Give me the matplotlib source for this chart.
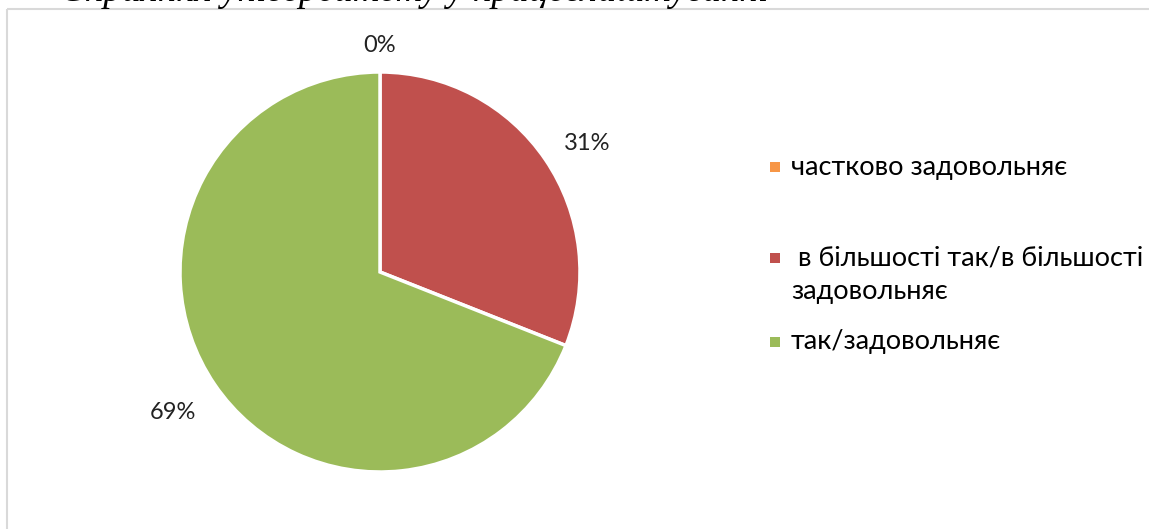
import matplotlib
matplotlib.use('Agg')
import matplotlib.pyplot as plt
from matplotlib.patches import Rectangle
import numpy as np

# Дані
categories = ['частково задовольняє', ' в більшості так/в більшості\nзадовольняє', 'так/задовольняє']
values = [0, 31, 69]
colors = ['#F79646', '#C0504D', '#9BBB59']
title = 'Сприяння університету у працевлаштуванні'

W, H = 1149, 529
fig = plt.figure(figsize=(W / 100, H / 100), dpi=100)
fig.patch.set_facecolor('white')

# Шар у пікселях для рамки, заголовка та легенди
over = fig.add_axes([0, 0, 1, 1])
over.set_xlim(0, W)
over.set_ylim(H, 0)
over.axis('off')

# рамка діаграми
over.add_patch(Rectangle((7, 9), W + 10, H + 10, fill=False, edgecolor='#D9D9D9', lw=1.5))

# обрізаний заголовок зверху
over.text(60, 1, title, fontsize=26.7, family='Liberation Serif', style='italic',
          va='baseline', ha='left', color='black')

# Кругова діаграма
cx, cy, r = 380, 272, 200
ax = fig.add_axes([(cx - r) / W, (H - cy - r) / H, 2 * r / W, 2 * r / H])
wedges, texts, autotexts = ax.pie(values, colors=colors, startangle=90, counterclock=False,
                                  radius=1, autopct='%.0f%%', pctdistance=1.2,
                                  wedgeprops=dict(edgecolor='white', linewidth=2.5),
                                  textprops=dict(fontsize=17, family='Lato', color='#222222'))
# відстань підписів від центру і зсув кута
lab_dist = [1.13, 1.22, 1.25]
lab_shift = [0, -2.5, 0]
for w, t, d, s in zip(wedges, autotexts, lab_dist, lab_shift):
    ang = np.deg2rad((w.theta1 + w.theta2) / 2 + s)
    t.set_position((d * np.cos(ang), d * np.sin(ang)))
    t.set_clip_on(False)
ax.set_xlim(-1, 1)
ax.set_ylim(-1, 1)
ax.set_aspect('equal')

# Легенда вручну (маркер на першому рядку, як в Excel)
leg_y = [167, 258, 342]
line_h = 34
for lab, col, y in zip(categories, colors, leg_y):
    over.add_patch(Rectangle((770, y - 5), 10, 10, facecolor=col, edgecolor='none'))
    for i, line in enumerate(lab.split('\n')):
        over.text(791, y + i * line_h, line, fontsize=19.5, family='Lato',
                  va='center', ha='left', color='black')

fig.savefig('out.png', dpi=100)
